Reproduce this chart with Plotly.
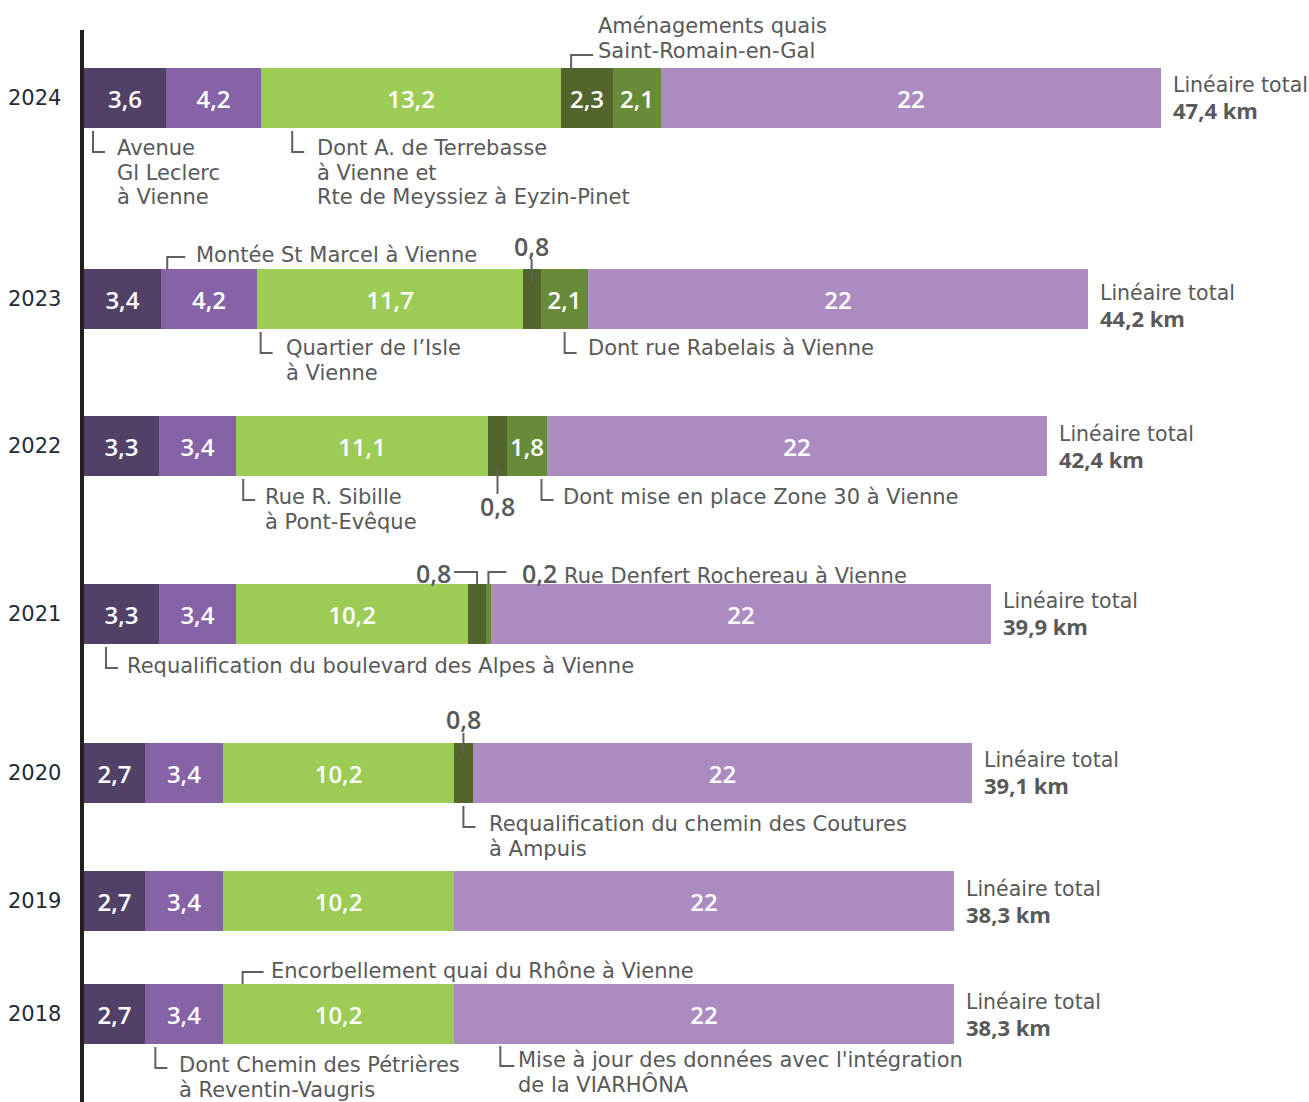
import plotly.graph_objects as go

# ---------------- data ----------------
YEARS = ["2024", "2023", "2022", "2021", "2020", "2019", "2018"]
SEG_A = [3.6, 3.4, 3.3, 3.3, 2.7, 2.7, 2.7]        # violet foncé
SEG_B = [4.2, 4.2, 3.4, 3.4, 3.4, 3.4, 3.4]        # violet moyen
SEG_C = [13.2, 11.7, 11.1, 10.2, 10.2, 10.2, 10.2]  # vert clair
SEG_D = [2.3, 0.8, 0.8, 0.8, 0.8, 0, 0]            # vert foncé
SEG_E = [2.1, 2.1, 1.8, 0.2, 0, 0, 0]              # vert moyen
SEG_F = [22, 22, 22, 22, 22, 22, 22]               # violet clair
TOTALS = ["47,4", "44,2", "42,4", "39,9", "39,1", "38,3", "38,3"]

SEGS = [SEG_A, SEG_B, SEG_C, SEG_D, SEG_E, SEG_F]
COLORS = ["#524166", "#8663a6", "#9ccc55", "#52652c", "#688b3a", "#ac8bc0"]

# ---------------- layout constants ----------------
W, H = 1309, 1102
X0 = 84          # pixel where value 0 sits
PX = 22.72       # pixels per km
Y_POS = [98, 299, 446, 614, 773, 901, 1014]
BAR_H = 60
TOTAL_DY = [-13, -6, -12, -13, -13, -12, -12]
GRAY = "#595959"
LINE_GRAY = "#606060"
FONT = "DejaVu Sans"
NUMFONT = "Open Sans"
FS = 21
LH = 24.5


def X(px):
    return (px - X0) / PX


def d(px):
    return px / PX


def start(i, k):
    return sum(SEGS[j][i] for j in range(k))


def center(i, k):
    return start(i, k) + SEGS[k][i] / 2


def fmt(v):
    return f"{v:g}".replace(".", ",")


fig = go.Figure()
for k, seg in enumerate(SEGS):
    fig.add_trace(go.Bar(
        y=Y_POS, x=seg, orientation="h", width=BAR_H,
        marker=dict(color=COLORS[k], line=dict(width=0)),
        text=[fmt(v) if v >= 1.5 else "" for v in seg],
        texttemplate="%{text}",
        textposition="inside", insidetextanchor="middle", textangle=0,
        textfont=dict(family=NUMFONT, size=24, color="white", weight=600),
        hoverinfo="skip", showlegend=False, cliponaxis=False,
    ))

annotations = []
shapes = []


def txt(x, y, text, anchor="left", size=FS, family=FONT, color=GRAY, weight=None):
    f = dict(family=family, size=size, color=color)
    if weight:
        f["weight"] = weight
    annotations.append(dict(x=x, y=y, xref="x", yref="y", text=text, showarrow=False,
                            xanchor=anchor, yanchor="middle", font=f))


def block(x, y_first, lines, **kw):
    for j, line in enumerate(lines):
        txt(x, y_first + j * LH, line, **kw)


def path(points):
    p = "M " + " L ".join(f"{a},{b}" for a, b in points)
    shapes.append(dict(type="path", path=p, xref="x", yref="y",
                       line=dict(color=LINE_GRAY, width=2)))


def leader_below(x, yb):
    path([(x, yb + 3), (x, yb + 24), (x + d(12), yb + 24)])


def leader_above(x, yt, ytop, length):
    path([(x, yt), (x, ytop), (x + d(length), ytop)])


# axis line
shapes.append(dict(type="line", xref="x", yref="y", x0=X(82), x1=X(82), y0=30, y1=H,
                   line=dict(color="#231f20", width=4)))

# year labels and totals
for i, yr in enumerate(YEARS):
    txt(X(63), Y_POS[i], yr, anchor="right", size=21, color="#1f2a36")
    tot = start(i, 6)
    yc = Y_POS[i] + TOTAL_DY[i]
    txt(tot + d(10), yc, "Linéaire total", size=20.5)
    txt(tot + d(10), yc + 25, TOTALS[i] + " km", size=22, family=NUMFONT, weight=700)

# ---- 2024 ----
i = 0; yt = Y_POS[i] - BAR_H / 2; yb = Y_POS[i] + BAR_H / 2
x = start(i, 0) + d(9)
leader_below(x, yb)
block(start(i, 0) + d(31), 148, ["Avenue", "Gl Leclerc", "à Vienne"])
x = start(i, 2) + d(31)
leader_below(x, yb)
block(start(i, 2) + d(54), 148, ["Dont A. de Terrebasse", "à Vienne et", "Rte de Meyssiez à Eyzin-Pinet"])
x = start(i, 3) + d(10)
leader_above(x, yt, 55, 22)
block(start(i, 3) + d(35), 26, ["Aménagements quais", "Saint-Romain-en-Gal"])

# ---- 2023 ----
i = 1; yt = Y_POS[i] - BAR_H / 2; yb = Y_POS[i] + BAR_H / 2
x = start(i, 1) + d(6)
leader_above(x, yt, 257, 18)
txt(start(i, 1) + d(33), 255, "Montée St Marcel à Vienne")
c = center(i, 3)
path([(c, 259), (c, 282)])
txt(c, 246, fmt(SEG_D[i]), anchor="center", size=25, family=NUMFONT, weight=600)
x = start(i, 2) + d(4)
leader_below(x, yb)
block(start(i, 2) + d(27), 348, ["Quartier de l’Isle", "à Vienne"])
x = start(i, 4) + d(24)
leader_below(x, yb)
txt(start(i, 4) + d(45), 348, "Dont rue Rabelais à Vienne")

# ---- 2022 ----
i = 2; yt = Y_POS[i] - BAR_H / 2; yb = Y_POS[i] + BAR_H / 2
x = start(i, 2) + d(7)
leader_below(x, yb)
block(start(i, 2) + d(27), 497, ["Rue R. Sibille", "à Pont-Evêque"])
c = center(i, 3)
path([(c, 470), (c, 494)])
txt(c, 506, fmt(SEG_D[i]), anchor="center", size=25, family=NUMFONT, weight=600)
x = start(i, 5) - d(6)
leader_below(x, yb)
txt(x + d(20), 497, "Dont mise en place Zone 30 à Vienne")

# ---- 2021 ----
i = 3; yt = Y_POS[i] - BAR_H / 2; yb = Y_POS[i] + BAR_H / 2
c = center(i, 3)
path([(c, yt), (c, 572), (c - d(23), 572)])
txt(c - d(24), 573, fmt(SEG_D[i]), anchor="right", size=25, family=NUMFONT, weight=600)
c2 = center(i, 4)
leader_above(c2, yt, 572, 18)
txt(c2 + d(32), 573,
    "<span style='font-family:Open Sans;font-size:25px;font-weight:600'>" + fmt(SEG_E[i]) +
    "</span> Rue Denfert Rochereau à Vienne")
x = start(i, 0) + d(22)
leader_below(x, yb)
txt(start(i, 0) + d(41), 666, "Requalification du boulevard des Alpes à Vienne")

# ---- 2020 ----
i = 4; yt = Y_POS[i] - BAR_H / 2; yb = Y_POS[i] + BAR_H / 2
c = center(i, 3)
path([(c, 733), (c, 755)])
txt(c, 719, fmt(SEG_D[i]), anchor="center", size=25, family=NUMFONT, weight=600)
leader_below(c, yb)
block(c + d(24), 824, ["Requalification du chemin des Coutures", "à Ampuis"])

# ---- 2018 ----
i = 6; yt = Y_POS[i] - BAR_H / 2; yb = Y_POS[i] + BAR_H / 2
x = start(i, 2) + d(20)
leader_above(x, yt, 972, 21)
txt(x + d(26), 971, "Encorbellement quai du Rhône à Vienne")
x = start(i, 1) + d(10)
leader_below(x, yb)
block(start(i, 1) + d(32), 1065, ["Dont Chemin des Pétrières", "à Reventin-Vaugris"])
x = start(i, 5) + d(46)
path([(x, yb + 2), (x, yb + 22), (x + d(14), yb + 22)])
block(x + d(16), 1060, ["Mise à jour des données avec l'intégration", "de la VIARHÔNA"])

fig.update_layout(
    width=W, height=H, barmode="stack", bargap=0,
    margin=dict(l=0, r=0, t=0, b=0),
    paper_bgcolor="white", plot_bgcolor="white",
    xaxis=dict(range=[X(0), X(W)], visible=False, fixedrange=True),
    yaxis=dict(range=[H, 0], visible=False, fixedrange=True),
    annotations=annotations, shapes=shapes,
    font=dict(family=FONT, color=GRAY),
)

fig.write_html("out.html", config={"displayModeBar": False},
               post_script="document.body.style.margin='0';document.body.style.overflow='hidden';")
